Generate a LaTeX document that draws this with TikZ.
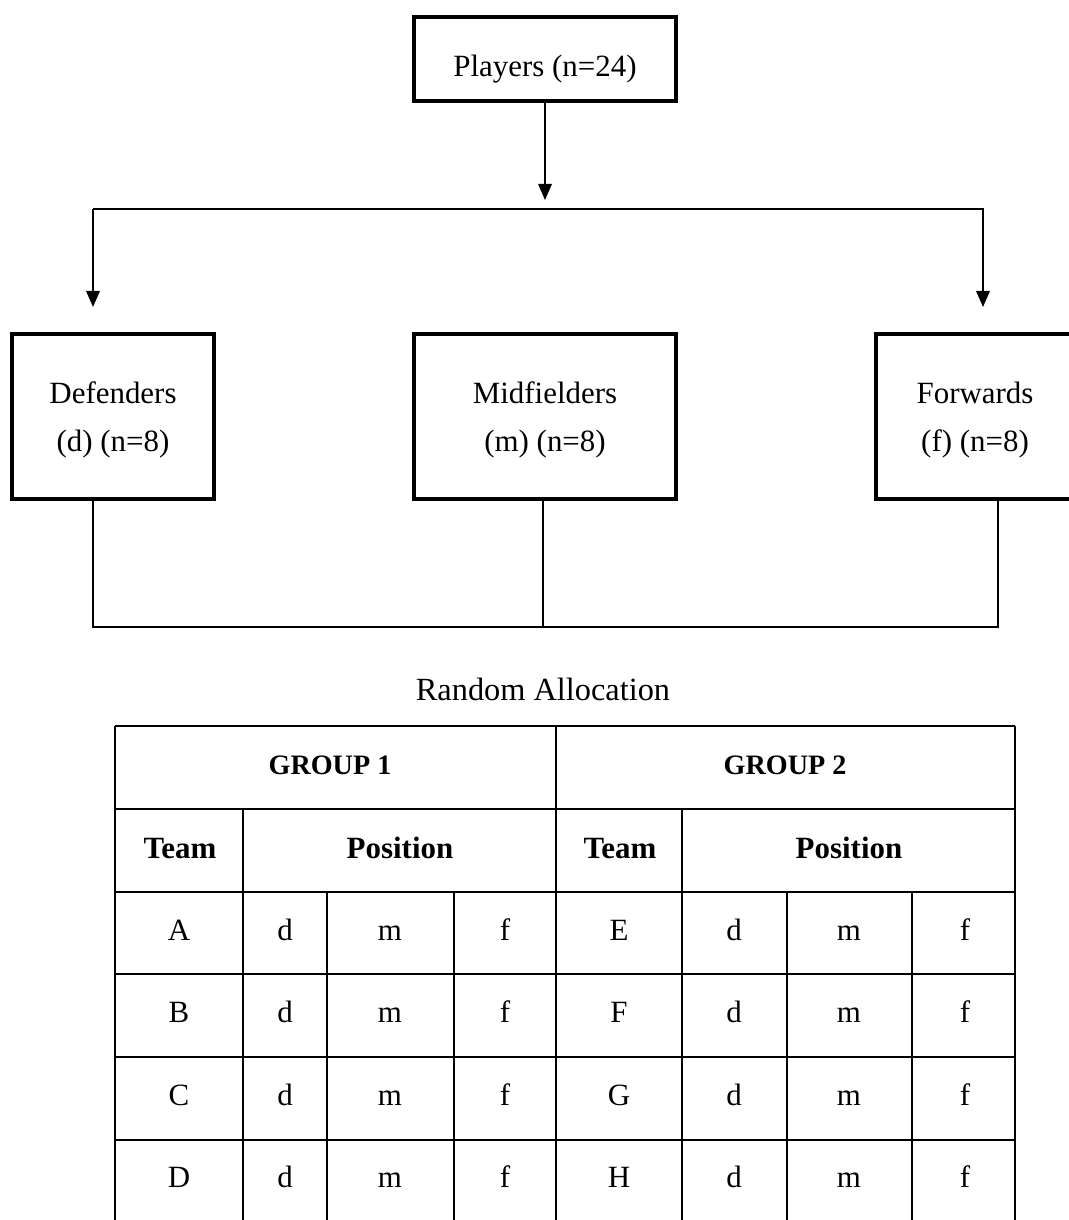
\documentclass[tikz,border=0pt]{standalone}
\usepackage{fontspec}
\setmainfont{Liberation Serif}
\usetikzlibrary{arrows.meta}

\tikzset{
  flowbox/.style={draw,line width=2.5pt,align=center,inner sep=0pt},
  link/.style={line width=0.9pt},
  tip/.style={-{Triangle[width=0.34cm,length=0.4cm]}},
  grid/.style={line width=0.9pt},
  cell/.style={text height=1.6ex,text depth=0.3ex,inner sep=0pt}
}

\begin{document}
\begin{tikzpicture}[x=0.025cm,y=-0.025cm,font=\fontsize{22}{26}\selectfont]
\useasboundingbox (0,0) rectangle (1068,1220);

        \begin{scope}[every node/.style={flowbox}]
          \node[minimum width=6.55cm,minimum height=2.1cm,text height=1.05cm,text depth=0.18cm] (players) at (545,59) {Players (n=24)};
          \node[minimum width=5.05cm,minimum height=4.125cm,text depth=-0.29cm] (def) at (113,416.5) {Defenders\\[8pt](d) (n=8)};
          \node[minimum width=6.55cm,minimum height=4.125cm,text depth=-0.29cm] (mid) at (545,416.5) {Midfielders\\[8pt](m) (n=8)};
          \node[minimum width=4.95cm,minimum height=4.125cm,text depth=-0.29cm] (fwd) at (975,416.5) {Forwards\\[8pt](f) (n=8)};
        \end{scope}

        \coordinate (ptip) at (545,200);
        \coordinate (dtop) at (93,209);
        \coordinate (ftop) at (983,209);
        \coordinate (dtip) at (93,307);
        \coordinate (ftip) at (983,307);
        \coordinate (dlow) at (93,627);
        \coordinate (mlow) at (543,627);
        \coordinate (flow) at (998,627);

        \draw[link,tip] (players) -- (ptip);
        \draw[link,tip] (dtop) -- (ftop) -- (ftip);
        \draw[link,tip] (dtop) -- (dtip);
        \draw[link] (def.south -| dlow) -- (dlow) -- (flow) -- (fwd.south -| flow);
        \draw[link] (mid.south -| mlow) -- (mlow);

        \node[cell,font=\fontsize{23}{27}\selectfont] (alloc) at (543,696) {Random Allocation};

        \begin{scope}[grid]
          \foreach \y in {726,809,892,974,1057,1140}
            \draw (115,\y) -- (1015,\y);
          \foreach \x in {115,556,1015}
            \draw (\x,726) -- (\x,1220);
          \foreach \x in {243,682}
            \draw (\x,809) -- (\x,1220);
          \foreach \x in {327,454,787,912}
            \draw (\x,892) -- (\x,1220);
        \end{scope}

        \begin{scope}[every node/.style={cell,font=\fontsize{22}{26}\selectfont\bfseries}]
          \node[font=\fontsize{20}{24}\selectfont\bfseries] (g1) at (330,770) {GROUP 1};
          \node[font=\fontsize{20}{24}\selectfont\bfseries] (g2) at (785,770) {GROUP 2};
          \node (team1) at (180,854) {Team};
          \node (pos1) at (400,854) {Position};
          \node (team2) at (620,854) {Team};
          \node (pos2) at (849,854) {Position};
        \end{scope}

        \foreach \a/\b [count=\i] in {A/E,B/F,C/G,D/H} {
          \pgfmathsetmacro{\rowy}{936+(\i-1)*82.5}
          \node[cell] (ta\i) at (179,\rowy) {\a};
          \node[cell] (da\i) at (285,\rowy) {d};
          \node[cell] (ma\i) at (390,\rowy) {m};
          \node[cell] (fa\i) at (505,\rowy) {f};
          \node[cell] (tb\i) at (619,\rowy) {\b};
          \node[cell] (db\i) at (734,\rowy) {d};
          \node[cell] (mb\i) at (849,\rowy) {m};
          \node[cell] (fb\i) at (965,\rowy) {f};
        }

      \end{tikzpicture}
\end{document}
